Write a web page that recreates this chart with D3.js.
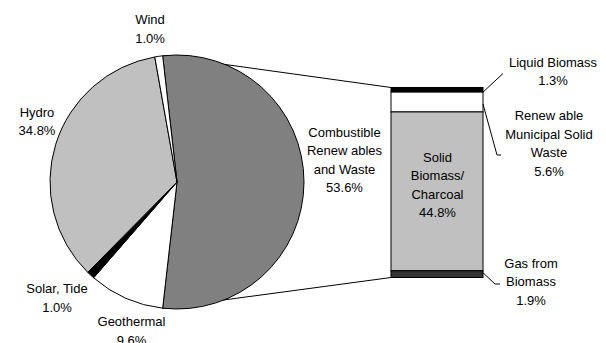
<!DOCTYPE html>
<html>
<head>
<meta charset="utf-8">
<script src="https://cdnjs.cloudflare.com/ajax/libs/d3/7.8.5/d3.min.js"></script>
<style>
body{ margin:0; padding:0; background:#fff; }
svg text{ font-family: "Liberation Sans", Arial, sans-serif; font-size:13px; fill:#000; }
</style>
</head>
<body>
<div id="chart"></div>
<script>
// pie: main categories (clockwise from the split slice)
var pieNames  = ["Combustible Renew ables and Waste", "Geothermal", "Solar, Tide", "Hydro", "Wind"];
var pieValues = [53.6, 9.6, 1.0, 34.8, 1.0];
// bar: breakdown of the combustible slice, top to bottom
var barNames  = ["Liquid Biomass", "Renew able Municipal Solid Waste", "Solid Biomass/ Charcoal", "Gas from Biomass"];
var barValues = [1.3, 5.6, 44.8, 1.9];

var W = 606, H = 343;
var cx = 177, cy = 182, R = 127;
var pieFill = ["#808080", "#ffffff", "#000000", "#c0c0c0", "#ffffff"];
var barFill = ["#000000", "#ffffff", "#c0c0c0", "#333333"];
var barX = 391, barW = 92, barTop = 87.5, barBottom = 277.5;
var lineH = 18.5;

// label lines and positions (centre x, first baseline)
var pieLabels = [
    {lines:["Combustible","Renew ables","and Waste"], x:344.5, y:136.5},
    {lines:["Geothermal"], x:131.5, y:326},
    {lines:["Solar, Tide"], x:57, y:293},
    {lines:["Hydro"], x:37, y:116.5},
    {lines:["Wind"], x:150, y:24}
];
var barLabels = [
    {lines:["Liquid Biomass"], x:553, y:66.5},
    {lines:["Renew able","Municipal Solid","Waste"], x:549, y:120},
    {lines:["Solid","Biomass/","Charcoal"], x:437.5, y:161.5},
    {lines:["Gas from","Biomass"], x:531, y:267.5}
];

var svg = d3.select("#chart").append("svg")
    .attr("width", W).attr("height", H);

var split = pieValues[0] / d3.sum(pieValues);
var a0 = Math.PI/2 - Math.PI*split;
var pie = d3.pie().sort(null).startAngle(a0).endAngle(a0 + 2*Math.PI);
var arcs = pie(pieValues);
var arc = d3.arc().innerRadius(0).outerRadius(R);

var y = d3.scaleLinear().domain([0, d3.sum(barValues)]).range([barTop, barBottom]);
var stack = [], acc = 0;
barValues.forEach(function(v, i){
    stack.push({i:i, v:v, y0:acc, y1:acc+v});
    acc += v;
});

// connector lines behind the pie
function pt(a){ return [cx + R*Math.sin(a), cy - R*Math.cos(a)]; }
var pStart = pt(arcs[0].startAngle), pEnd = pt(arcs[0].endAngle);
svg.append("line").attr("x1", pStart[0]).attr("y1", pStart[1])
    .attr("x2", barX).attr("y2", y(0))
    .attr("stroke", "#000").attr("stroke-width", 1);
svg.append("line").attr("x1", pEnd[0]).attr("y1", pEnd[1])
    .attr("x2", barX).attr("y2", y(d3.sum(barValues)))
    .attr("stroke", "#000").attr("stroke-width", 1);

svg.append("g").attr("transform", "translate(" + cx + "," + cy + ")")
    .selectAll("path").data(arcs).enter().append("path")
    .attr("d", arc)
    .attr("fill", function(d, i){ return pieFill[i]; })
    .attr("stroke", "#000").attr("stroke-width", 1)
    .attr("stroke-linejoin", "round");

svg.append("g").selectAll("rect").data(stack).enter().append("rect")
    .attr("x", barX).attr("width", barW)
    .attr("y", function(d){ return y(d.y0); })
    .attr("height", function(d){ return y(d.y1) - y(d.y0); })
    .attr("fill", function(d){ return barFill[d.i]; })
    .attr("stroke", "#000").attr("stroke-width", 1);

// leader lines for the bar labels on the right
var xr = barX + barW;
var leaders = [
    [[xr, y(stack[0].y1)], [503, 73.5]],
    [[xr, (y(stack[1].y0)+y(stack[1].y1))/2 + 2], [497, 155], [501, 155]],
    [[xr, y(stack[3].y0) + 2], [495, 284], [500, 284]]
];
svg.append("g").selectAll("path").data(leaders).enter().append("path")
    .attr("d", function(d){ return d3.line()(d); })
    .attr("fill", "none").attr("stroke", "#000").attr("stroke-width", 1);

function drawLabel(lab, value){
    var t = svg.append("text").attr("text-anchor", "middle");
    var lines = lab.lines.concat([value.toFixed(1) + "%"]);
    lines.forEach(function(s, k){
        t.append("tspan").attr("x", lab.x).attr("y", lab.y + k*lineH).text(s);
    });
}
pieLabels.forEach(function(lab, i){ drawLabel(lab, pieValues[i]); });
barLabels.forEach(function(lab, i){ drawLabel(lab, barValues[i]); });
</script>
</body>
</html>
